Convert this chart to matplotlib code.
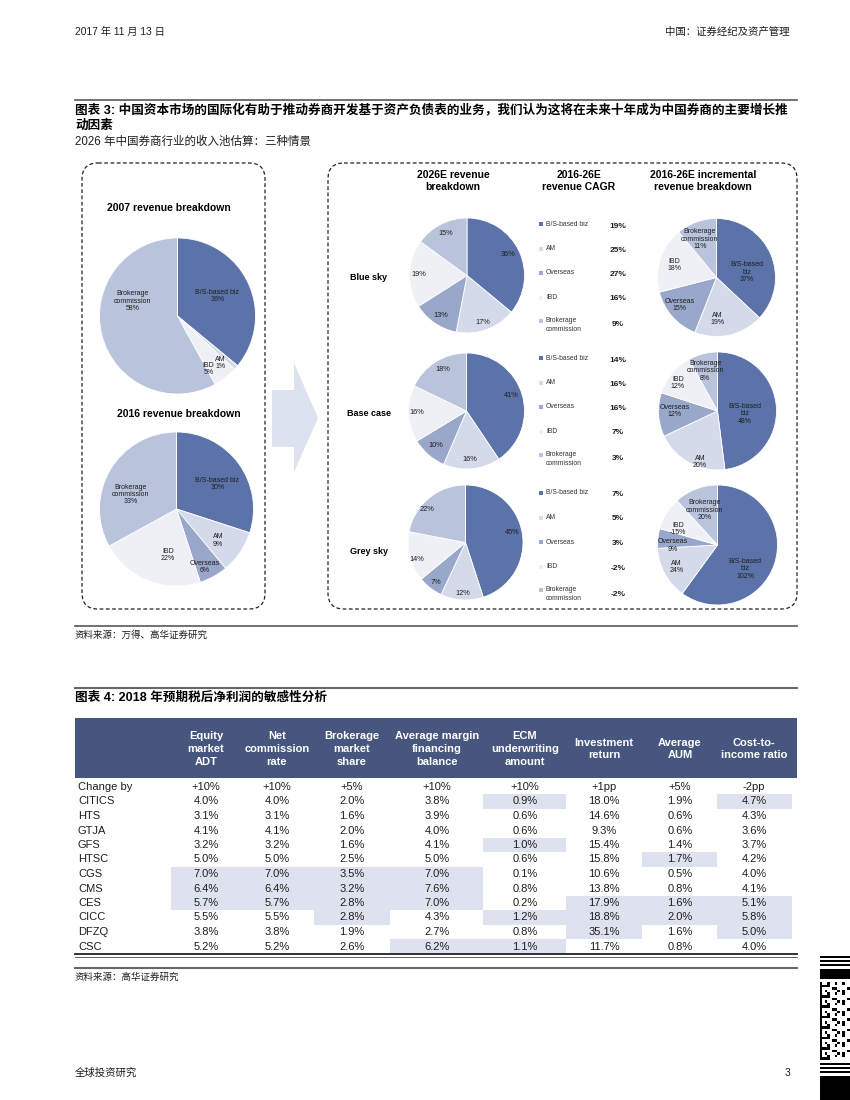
import matplotlib
matplotlib.use('Agg')
import matplotlib.pyplot as plt
from matplotlib.patches import FancyBboxPatch, Polygon, Rectangle
import numpy as np

# ---------------- data ----------------
rev2007_labels = ['B/S-based biz', 'AM', 'IBD', 'Brokerage\ncommission']
rev2007_values = [36, 1, 5, 58]
rev2016_labels = ['B/S-based biz', 'AM', 'Overseas', 'IBD', 'Brokerage\ncommission']
rev2016_values = [30, 9, 6, 22, 33]

scenarios = ['Blue sky', 'Base case', 'Grey sky']
segments = ['B/S-based biz', 'AM', 'Overseas', 'IBD', 'Brokerage\ncommission']
rev2026_blue = [36, 17, 13, 19, 15]
rev2026_base = [41, 16, 10, 16, 18]
rev2026_grey = [45, 12, 7, 14, 22]
cagr_blue = [19, 25, 27, 16, 9]
cagr_base = [14, 16, 16, 7, 3]
cagr_grey = [7, 5, 3, -2, -2]
incr_labels = ['B/S-based\nbiz', 'AM', 'Overseas', 'IBD', 'Brokerage\ncommission']
incr_blue = [37, 19, 15, 18, 11]
incr_base = [48, 20, 12, 12, 8]
incr_grey = [102, 24, 9, -15, 20]

table_cols = ['Equity\nmarket\nADT', 'Net\ncommission\nrate', 'Brokerage\nmarket\nshare',
              'Average margin\nfinancing\nbalance', 'ECM\nunderwriting\namount',
              'Investment\nreturn', 'Average\nAUM', 'Cost-to-\nincome ratio']
change_by = ['+10%', '+10%', '+5%', '+10%', '+10%', '+1pp', '+5%', '-2pp']
brokers = ['CITICS', 'HTS', 'GTJA', 'GFS', 'HTSC', 'CGS', 'CMS', 'CES', 'CICC', 'DFZQ', 'CSC']
sens_citics = [4.0, 4.0, 2.0, 3.8, 0.9, 18.0, 1.9, 4.7]
sens_hts = [3.1, 3.1, 1.6, 3.9, 0.6, 14.6, 0.6, 4.3]
sens_gtja = [4.1, 4.1, 2.0, 4.0, 0.6, 9.3, 0.6, 3.6]
sens_gfs = [3.2, 3.2, 1.6, 4.1, 1.0, 15.4, 1.4, 3.7]
sens_htsc = [5.0, 5.0, 2.5, 5.0, 0.6, 15.8, 1.7, 4.2]
sens_cgs = [7.0, 7.0, 3.5, 7.0, 0.1, 10.6, 0.5, 4.0]
sens_cms = [6.4, 6.4, 3.2, 7.6, 0.8, 13.8, 0.8, 4.1]
sens_ces = [5.7, 5.7, 2.8, 7.0, 0.2, 17.9, 1.6, 5.1]
sens_cicc = [5.5, 5.5, 2.8, 4.3, 1.2, 18.8, 2.0, 5.8]
sens_dfzq = [3.8, 3.8, 1.9, 2.7, 0.8, 35.1, 1.6, 5.0]
sens_csc = [5.2, 5.2, 2.6, 6.2, 1.1, 11.7, 0.8, 4.0]
# highlighted cells: (broker, column index)
highlights = [('CITICS', 4), ('CITICS', 7), ('GFS', 4), ('HTSC', 6),
              ('CGS', 0), ('CGS', 1), ('CGS', 2), ('CGS', 3),
              ('CMS', 0), ('CMS', 1), ('CMS', 2), ('CMS', 3),
              ('CES', 0), ('CES', 1), ('CES', 2), ('CES', 3), ('CES', 5), ('CES', 6), ('CES', 7),
              ('CICC', 2), ('CICC', 4), ('CICC', 5), ('CICC', 6), ('CICC', 7),
              ('DFZQ', 5), ('DFZQ', 7), ('CSC', 3), ('CSC', 4)]

# ---------------- style ----------------
plt.rcParams['font.family'] = ['Liberation Sans', 'Noto Sans CJK SC', 'DejaVu Sans']
C_BS, C_AM, C_OV, C_IBD, C_BR = '#5B73A9', '#D4DAEA', '#99A7CB', '#EEF0F6', '#B9C3DC'
seg_colors = [C_BS, C_AM, C_OV, C_IBD, C_BR]
col2007 = [C_BS, C_AM, C_IBD, C_BR]
TXT = '#1e1e1e'

W, H = 850, 1100
fig = plt.figure(figsize=(8.5, 11), dpi=100)
ax = fig.add_axes([0, 0, 1, 1])
ax.set_xlim(0, W)
ax.set_ylim(H, 0)
ax.axis('off')

# ---------------- page text ----------------
ax.text(75, 32, '2017 年 11 月 13 日', fontsize=7.4, va='center', color=TXT)
ax.text(790, 32, '中国：证券经纪及资产管理', fontsize=7.5, va='center', ha='right', color=TXT)
ax.plot([75, 797], [100, 100], color='#666666', lw=1.3)
ax.text(75, 110, '图表 3: 中国资本市场的国际化有助于推动券商开发基于资产负债表的业务，我们认为这将在未来十年成为中国券商的主要增长推',
        fontsize=9.05, fontweight='bold', va='center', color='black')
ax.text(75, 126, '动因素', fontsize=9.05, fontweight='bold', va='center', color='black')
ax.text(75, 142, '2026 年中国券商行业的收入池估算：三种情景', fontsize=8.3, va='center', color=TXT)

# dashed boxes
for (x0, y0, x1, y1) in [(82, 163, 265, 609), (328, 163, 797, 609)]:
    ax.add_patch(FancyBboxPatch((x0, y0), x1 - x0, y1 - y0,
                                boxstyle='round,pad=0,rounding_size=16',
                                fill=False, ec='#222222', lw=0.9, ls=(0, (3, 2))))

# arrow
ax.add_patch(Polygon([(272, 390), (294, 390), (294, 363), (318, 418), (294, 472),
                      (294, 447), (272, 447)], closed=True, fc='#DCE2EE', ec='none'))

def pie_at(cx, cy, r, values, colors, labels, label_pos, fs=5):
    pad = 1.06
    axp = fig.add_axes([(cx - r * pad) / W, (H - cy - r * pad) / H, 2 * r * pad / W, 2 * r * pad / H])
    sizes = [abs(v) for v in values]
    wedges, texts = axp.pie(sizes, colors=colors, startangle=90, counterclock=False,
                            labels=labels, labeldistance=0.6,
                            wedgeprops=dict(edgecolor='white', linewidth=0.6),
                            textprops=dict(fontsize=fs, color=TXT))
    for t, (px, py) in zip(texts, label_pos):
        t.set_position((px, py))
        t.set_ha('center')
        t.set_va('center')
        t.set_multialignment('center')
        t.set_linespacing(1.05)
    axp.set_xlim(-pad, pad)
    axp.set_ylim(-pad, pad)
    axp.set_aspect('equal')
    axp.axis('off')
    return axp

# left column
ax.text(169, 208, '2007 revenue breakdown', fontsize=7.5, fontweight='bold', ha='center', va='center')
ax.text(179, 414, '2016 revenue breakdown', fontsize=7.5, fontweight='bold', ha='center', va='center')
lab07 = [f'{l}\n{v}%' for l, v in zip(rev2007_labels, rev2007_values)]
pie_at(177.5, 316, 78, rev2007_values, col2007, lab07,
       [(0.51, 0.26), (0.55, -0.60), (0.40, -0.68), (-0.58, 0.19)])
lab16 = [f'{l}\n{v}%' for l, v in zip(rev2016_labels, rev2016_values)]
pie_at(176.5, 509, 77, rev2016_values, seg_colors, lab16,
       [(0.53, 0.32), (0.54, -0.41), (0.37, -0.75), (-0.11, -0.60), (-0.60, 0.19)])

# right column headers
ax.text(453, 181, '2026E revenue\nbreakdown', fontsize=7.5, fontweight='bold', ha='center', va='center', linespacing=1.15)
ax.text(579, 181, '2016-26E\nrevenue CAGR', fontsize=7.5, fontweight='bold', ha='center', va='center', linespacing=1.15)
ax.text(703, 181, '2016-26E incremental\nrevenue breakdown', fontsize=7.5, fontweight='bold', ha='center', va='center', linespacing=1.15)

rev2026 = [rev2026_blue, rev2026_base, rev2026_grey]
cagrs = [cagr_blue, cagr_base, cagr_grey]
incrs = [incr_blue, incr_base, incr_grey]
pie_centers = [(467, 275.5, 57.5), (466.5, 411, 58), (465.5, 542.5, 57.5)]
incr_centers = [(716.5, 277.5, 59), (717.5, 411, 59), (717.5, 545, 60)]
row_label_y = [277, 414, 552]
legend_y0 = [224, 358, 493]
pct_pos = [
    [(0.71, 0.37), (0.28, -0.82), (-0.45, -0.70), (-0.84, 0.02), (-0.37, 0.73)],
    [(0.78, 0.26), (0.06, -0.84), (-0.53, -0.59), (-0.85, -0.02), (-0.41, 0.72)],
    [(0.81, 0.17), (-0.04, -0.88), (-0.51, -0.70), (-0.84, -0.29), (-0.67, 0.58)],
]
incr_pos = [
    [(0.52, 0.09), (0.01, -0.70), (-0.62, -0.47), (-0.72, 0.21), (-0.28, 0.65)],
    [(0.47, -0.05), (-0.30, -0.86), (-0.72, 0.0), (-0.67, 0.47), (-0.21, 0.68)],
    [(0.46, -0.40), (-0.68, -0.37), (-0.74, -0.01), (-0.66, 0.27), (-0.21, 0.58)],
]
leg_dy = [0, 24.5, 49, 73.5, 101]
val_dy = [2, 26, 50.5, 75, 101]

for i, sc in enumerate(scenarios):
    ax.text(369, row_label_y[i], sc, fontsize=6.5, fontweight='bold', ha='center', va='center')
    cx, cy, r = pie_centers[i]
    pie_at(cx, cy, r, rev2026[i], seg_colors, [f'{v}%' for v in rev2026[i]], pct_pos[i], fs=5.3)
    cx, cy, r = incr_centers[i]
    pie_at(cx, cy, r, incrs[i], seg_colors,
           [f'{l}\n{v}%' for l, v in zip(incr_labels, incrs[i])], incr_pos[i], fs=5)
    y0 = legend_y0[i]
    for k, seg in enumerate(segments):
        ly = y0 + leg_dy[k]
        my = ly - 4.5 if '\n' in seg else ly
        ax.add_patch(Rectangle((539.5, my - 2), 4, 4, fc=seg_colors[k], ec='none'))
        ax.text(546, ly, seg, fontsize=4.9, ha='left', va='center', color='#333333', linespacing=1.25)
        ax.text(618, y0 + val_dy[k], f'{cagrs[i][k]}%', fontsize=6, fontweight='bold',
                ha='center', va='center', color=TXT)

ax.plot([75, 797], [626, 626], color='#666666', lw=1.3)
ax.text(75, 635, '资料来源：万得、高华证券研究', fontsize=6.8, va='center', color=TXT)

# ---------------- table ----------------
ax.plot([75, 797], [688, 688], color='#666666', lw=1.5)
ax.text(75, 698, '图表 4: 2018 年预期税后净利润的敏感性分析', fontsize=9.05, fontweight='bold', va='center')

col_x = [206, 277, 352, 437, 525, 604, 680, 754]
col_edges = [171, 241, 314, 390, 483, 566, 642, 717, 792]
ax.add_patch(Rectangle((75, 718), 722, 60, fc='#46567F', ec='none'))
for cx, name in zip(col_x, table_cols):
    ax.text(cx, 749, name, fontsize=8, fontweight='bold', color='white', ha='center', va='center',
            linespacing=1.35)

sens = [sens_citics, sens_hts, sens_gtja, sens_gfs, sens_htsc, sens_cgs, sens_cms,
        sens_ces, sens_cicc, sens_dfzq, sens_csc]
row_y0, row_h = 787, 14.5
for b, c in highlights:
    ri = brokers.index(b) + 1
    yy = row_y0 + ri * row_h
    ax.add_patch(Rectangle((col_edges[c], yy - row_h / 2), col_edges[c + 1] - col_edges[c], row_h,
                           fc='#DDE2EE', ec='none'))

ax.text(78, row_y0, 'Change by', fontsize=8, va='center', color=TXT)
for cx, v in zip(col_x, change_by):
    ax.text(cx, row_y0, v, fontsize=8, ha='center', va='center', color=TXT)
for ri, (b, vals) in enumerate(zip(brokers, sens), start=1):
    yy = row_y0 + ri * row_h
    ax.text(78, yy, b, fontsize=8, va='center', color=TXT)
    for cx, v in zip(col_x, vals):
        ax.text(cx, yy, f'{v:.1f}%', fontsize=8, ha='center', va='center', color=TXT)

ax.plot([75, 797], [954, 954], color='#222222', lw=1.3)
ax.plot([75, 797], [957, 957], color='#222222', lw=0.5)
ax.plot([75, 797], [968, 968], color='#666666', lw=1.5)
ax.text(75, 977, '资料来源：高华证券研究', fontsize=6.8, va='center', color=TXT)

# footer
ax.text(75, 1073, '全球投资研究', fontsize=7.5, va='center', color=TXT)
ax.text(790, 1073, '3', fontsize=7.5, va='center', ha='right', color=TXT)

# barcode decoration at right edge
for (y, h) in [(956, 2), (960, 2), (964, 2), (969, 10), (1063, 2), (1067, 2), (1071, 2), (1076, 24)]:
    ax.add_patch(Rectangle((820, y), 30, h, fc='black', ec='none'))
ii, jj = np.meshgrid(np.arange(12), np.arange(30))
pattern = ((ii * 5 + jj * 3 + (ii * jj) % 4) % 3 == 0).astype(float)
ax.imshow(1 - pattern, cmap='gray', extent=(820, 850, 1060, 982), aspect='auto',
          interpolation='nearest', vmin=0, vmax=1, zorder=1)
ax.set_xlim(0, W)
ax.set_ylim(H, 0)

fig.savefig('out.png', dpi=100)
